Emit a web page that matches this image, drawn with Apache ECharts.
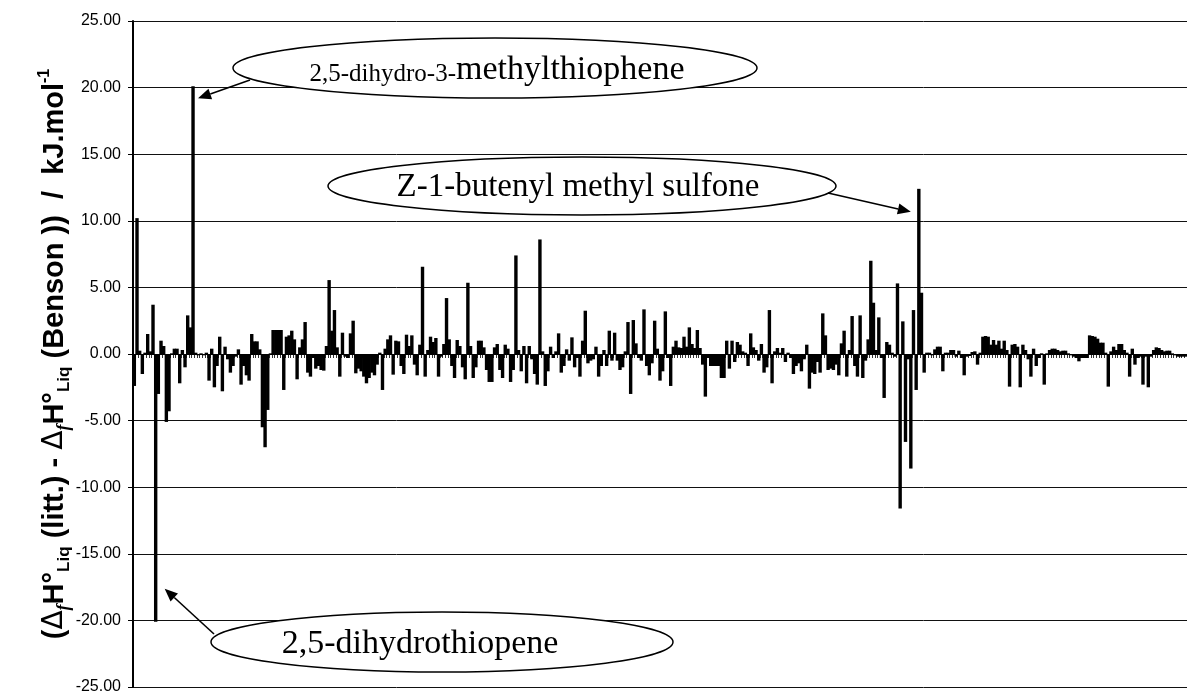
<!DOCTYPE html>
<html><head><meta charset="utf-8">
<script src="https://cdn.jsdelivr.net/npm/echarts@6/dist/echarts.min.js"></script>
<style>html,body{margin:0;padding:0;background:#fff}#c{width:1187px;height:695px}</style>
</head><body><div id="c"></div>
<script>
// Deviation values (kJ/mol), read left to right in six stretches of the x-axis
const seg1 = [-2.4,10.2,0.25,-1.5,0.1,1.5,0.2,3.7,-20.1,-3.0,
  1.0,0.6,-5.1,-4.3,0.05,0.4,0.4,-2.2,0.3,-1.0,
  2.9,2.0,20.1,0.1,-0.1,0.05,-0.1,0.1,-2.0,0.4,
  -2.5,-0.9,1.3,-2.8,0.55,-0.4,-1.4,-0.9,-0.2,0.35,
  -2.3,-0.9,-1.6,-2.0,1.5,0.95,0.95,0.35,-5.5,-7.0,
  -4.2,0.05,1.8,1.8,1.8,1.8,-2.7,1.3,1.4,1.75,
  1.1,-1.9,0.5,1.1,2.4];
const seg2 = [-1.4,-1.7,-0.3,-1.1,-0.9,-1.2,-1.25,0.6,5.55,1.75,
  3.3,0.5,-1.7,1.6,-0.2,-0.3,1.55,2.5,-1.45,-1.1,
  -1.3,-1.7,-2.2,-1.8,-1.4,-1.6,-0.8,0.1,-2.7,0.4,
  1.1,1.4,-1.55,1.0,0.95,-0.9,-1.5,1.45,0.6,1.4,
  -0.8,-1.6,0.7,6.55,-1.7,0.3,1.3,0.9,1.2,-1.7,
  -0.2,0.75,4.2,1.1,-0.9,-1.8,1.05,0.6,-1.0,-1.9,
  5.35,0.6,-1.8,-1.0,1.0,1.0];
const seg3 = [0.5,-1.2,-2.1,-2.1,0.5,0.75,-1.2,-1.8,0.7,0.4,
  -2.1,-1.2,7.4,0.3,-1.3,0.6,-2.2,0.6,-0.4,-1.5,
  -2.3,8.6,0.2,-2.4,-1.3,0.55,-0.3,0.2,1.55,-1.4,
  -0.9,0.35,-0.5,1.25,-1.0,-0.3,-1.7,1.0,3.25,-0.7,
  -0.5,-0.4,0.55,-1.7,-0.9,0.3,-0.9,1.75,-0.5,1.6,
  -0.5,-1.2,-1.0,0.2,2.4,-3.0,2.55,0.8,-0.3,-0.5,
  3.35,-0.9,-1.6,-0.7,2.5];
const seg4 = [0.4,-2.0,-1.3,3.2,-0.3,-2.4,0.55,1.0,0.5,0.45,
  1.3,0.55,2.0,0.75,0.45,1.8,0.45,-0.8,-3.2,-0.3,
  -0.9,-0.9,-0.9,-0.9,-1.8,-1.8,1.0,-1.1,1.0,-0.6,
  0.9,0.7,0.2,0.1,-0.9,1.55,0.5,0.3,-0.5,0.75,
  -1.4,-1.0,3.3,-2.2,0.2,0.45,0.1,0.45,-0.6,0.1,
  -0.3,-1.5,-0.9,-0.7,-1.3,-0.4,0.7,-2.6,-1.4,-1.5,
  -0.6,-1.4,3.05,1.4,-1.2];
const seg5 = [-1.1,-1.2,-0.8,-1.6,0.8,1.75,-1.7,0.3,2.85,-0.9,
  -1.7,2.9,-1.8,-0.5,1.1,7.0,3.85,0.3,2.75,-0.3,
  -3.3,0.9,0.7,0.1,-0.2,5.3,-11.6,2.45,-6.6,-0.4,
  -8.6,3.3,-2.7,12.4,4.6,-1.4,0.1,0.1,-0.1,0.35,
  0.55,0.55,-1.3,0.1,0.1,0.3,0.3,-0.2,0.25,-0.3,
  -1.6,-0.2,-0.15,0.15,0.2,-0.8,0.1,1.3,1.35,1.3,
  0.7,1.05,0.7,1.0,0.4];
const seg6 = [1.0,0.3,-2.45,0.7,0.75,0.55,-2.5,0.7,0.3,-0.4,
  -1.7,0.4,-0.9,-0.3,0.05,-2.3,0.05,0.3,0.4,0.4,
  0.3,0.2,0.25,0.25,0.05,-0.1,-0.2,-0.3,-0.55,-0.3,
  -0.3,-0.3,1.4,1.35,1.3,1.15,0.85,0.85,0.1,-2.45,
  0.2,0.55,0.3,0.75,0.75,0.3,0.1,-1.7,0.4,-0.8,
  -0.3,-0.2,-2.3,-0.2,-2.5,-0.2,0.3,0.5,0.45,0.3,
  0.2,0.25,0.25,0.05,-0.1,-0.2,-0.2,-0.2,-0.2];

const values = [].concat(seg1, seg2, seg3, seg4, seg5, seg6);
const categories = values.map((_, i) => String(i + 1));

// Callout texts and the values they point at
const calloutTop = ['2,5-dihydro-3-', 'methylthiophene'];
const calloutMid = 'Z-1-butenyl methyl sulfone';
const calloutLow = '2,5-dihydrothiopene';
const calloutTopValue = 20.1;
const calloutMidValue = 12.4;
const calloutLowValue = -20.1;

const chart = echarts.init(document.getElementById('c'), null, {renderer: 'canvas'});

const yName = '{p|(}{d|Δ}{fi|f}{p|H°}{s|Liq}{p| (litt.) - }{d|Δ}{fi|f}{p|H°}{s|Liq}{p| (Benson ))  /  kJ.mol}{sup|-1}';

const option = {
  animation: false,
  backgroundColor: '#fff',
  grid: {left: 133, right: 0, top: 21, bottom: 7, containLabel: false},
  xAxis: {
    type: 'category',
    data: categories,
    axisLine: {onZero: true, lineStyle: {color: '#000', width: 1}},
    axisTick: {show: true, interval: 0, length: 4, lineStyle: {color: '#000', width: 0.8}},
    axisLabel: {show: false},
    splitLine: {show: false}
  },
  yAxis: {
    type: 'value', min: -25, max: 25, interval: 5,
    axisLine: {show: true, onZero: false, lineStyle: {color: '#000', width: 2}},
    axisTick: {show: true, length: 5, lineStyle: {color: '#000', width: 1}},
    axisLabel: {formatter: v => v.toFixed(2), fontFamily: 'Liberation Sans, Arial, sans-serif', fontSize: 16, color: '#000', margin: 12},
    splitLine: {show: true, lineStyle: {color: '#111', width: 1}},
    name: yName,
    nameLocation: 'middle',
    nameRotate: 90,
    nameGap: 60,
    nameMoveOverlap: false,
    nameTextStyle: {
      rich: {
        p: {fontFamily: 'Liberation Sans, Arial', fontWeight: 'bold', fontSize: 29, color: '#000', lineHeight: 36},
        d: {fontFamily: 'DejaVu Sans, Liberation Sans', fontWeight: 'normal', fontSize: 28, color: '#000', lineHeight: 36},
        fi: {fontFamily: 'Liberation Serif, serif', fontStyle: 'italic', fontWeight: 'bold', fontSize: 18, color: '#000', lineHeight: 17, verticalAlign: 'bottom'},
        s: {fontFamily: 'Liberation Sans, Arial', fontWeight: 'bold', fontSize: 17, color: '#000', lineHeight: 16, verticalAlign: 'bottom'},
        sup: {fontFamily: 'Liberation Sans, Arial', fontWeight: 'bold', fontSize: 16, color: '#000', lineHeight: 15, verticalAlign: 'top'}
      }
    }
  },
  series: [{
    type: 'bar',
    data: values,
    barWidth: 3.4,
    large: false,
    itemStyle: {color: '#000'},
    silent: true
  }]
};
chart.setOption(option);

function px(v) {
  const i = values.indexOf(v);
  return chart.convertToPixel({seriesIndex: 0}, [i, v]);
}
function arrow(tail, tip) {
  const dx = tip[0] - tail[0], dy = tip[1] - tail[1];
  const len = Math.sqrt(dx * dx + dy * dy);
  const ux = dx / len, uy = dy / len;
  const hl = 13, hw = 5.5;
  const bx = tip[0] - ux * hl, by = tip[1] - uy * hl;
  return [
    {type: 'line', z: 100, shape: {x1: tail[0], y1: tail[1], x2: bx, y2: by}, style: {stroke: '#000', lineWidth: 1.6}},
    {type: 'polygon', z: 100, shape: {points: [[tip[0], tip[1]], [bx - uy * hw, by + ux * hw], [bx + uy * hw, by - ux * hw]]}, style: {fill: '#000'}}
  ];
}

const pTop = px(calloutTopValue), pMid = px(calloutMidValue), pLow = px(calloutLowValue);
const serif = 'Liberation Serif, Times New Roman, serif';
const els = [];
// ellipses
els.push({type: 'ellipse', z: 90, shape: {cx: 495, cy: 68, rx: 262, ry: 30}, style: {fill: '#fff', stroke: '#000', lineWidth: 1.5}});
els.push({type: 'ellipse', z: 90, shape: {cx: 582, cy: 186, rx: 254, ry: 29}, style: {fill: '#fff', stroke: '#000', lineWidth: 1.5}});
els.push({type: 'ellipse', z: 90, shape: {cx: 442, cy: 642, rx: 231, ry: 30}, style: {fill: '#fff', stroke: '#000', lineWidth: 1.5}});
// texts
els.push({type: 'text', z: 101, x: 497, y: 68, style: {
  text: '{a|' + calloutTop[0] + '}{b|' + calloutTop[1] + '}', align: 'center', verticalAlign: 'middle',
  rich: {a: {fontFamily: serif, fontSize: 25, fill: '#000', lineHeight: 38, verticalAlign: 'bottom'},
         b: {fontFamily: serif, fontSize: 34, fill: '#000', lineHeight: 38, verticalAlign: 'bottom'}}
}});
els.push({type: 'text', z: 101, x: 578, y: 187, style: {text: calloutMid, align: 'center', verticalAlign: 'middle', fontFamily: serif, fontSize: 33, fill: '#000'}});
els.push({type: 'text', z: 101, x: 420, y: 644, style: {text: calloutLow, align: 'center', verticalAlign: 'middle', fontFamily: serif, fontSize: 34, fill: '#000'}});
// arrows
arrow([250, 80], [pTop[0] + 5, pTop[1] + 12]).forEach(e => els.push(e));
arrow([828, 193], [pMid[0] - 8, pMid[1] + 23]).forEach(e => els.push(e));
arrow([214, 634], [pLow[0] + 9, pLow[1] - 33]).forEach(e => els.push(e));

chart.setOption({graphic: {elements: els}});
</script>
</body></html>
